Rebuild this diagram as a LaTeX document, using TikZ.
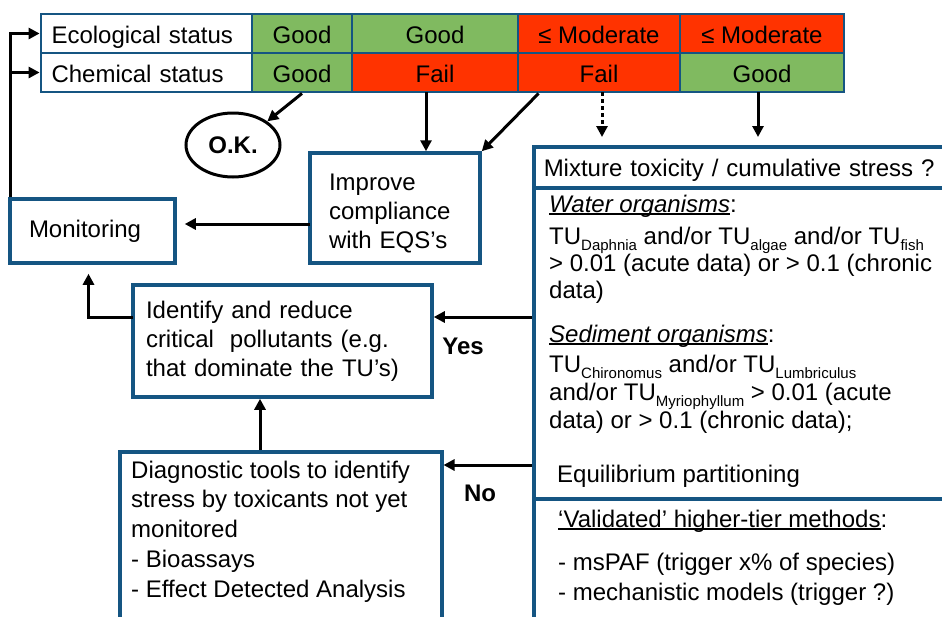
\documentclass[tikz,border=0pt]{standalone}
\usepackage{fontspec}
\setmainfont{Liberation Sans}
\usetikzlibrary{arrows.meta,shapes.geometric}
\definecolor{boxblue}{RGB}{21,85,130}
\definecolor{okgreen}{RGB}{128,186,96}
\definecolor{failred}{RGB}{255,51,0}
\newcommand{\sbs}[1]{\raisebox{-6.5pt}[0pt][0pt]{\fontsize{15}{15}\selectfont #1}}
\newcommand{\uln}[1]{\setbox0\hbox{#1}\rlap{\rule[-3pt]{\wd0}{1.8pt}}\box0}

\begin{document}
\begin{tikzpicture}[x=1pt,y=-1pt,font=\fontsize{24}{29}\selectfont]
 \tikzset{cell/.style={draw=boxblue, line width=2.8pt, inner sep=0pt, minimum height=39pt, text height=21pt, text depth=2pt},
  good/.style={cell, fill=okgreen},
  fail/.style={cell, fill=failred},
  box/.style={draw=boxblue, line width=3.5pt, fill=white, inner sep=0pt, align=left},
  txt/.style={inner sep=0pt, anchor=base west, align=left},
  flow/.style={line width=3pt, -{Triangle[length=11pt,width=11pt]}},
  answer/.style={font=\fontsize{24}{29}\selectfont\bfseries}}
  \useasboundingbox (0,0) rectangle (942,616);
  \clip (0,0) rectangle (942,616);
  % status table
  \node[cell, minimum width=211pt, text width=190pt, align=left] (ecolab) at (146.5,33.5) {Ecological status};
  \node[cell, minimum width=211pt, text width=190pt, align=left] (chemlab) at (146.5,72.5) {Chemical status};
  \node[good, minimum width=100pt] (eco1) at (302,33.5) {Good};
  \node[good, minimum width=100pt] (chem1) at (302,72.5) {Good};
  \node[good, minimum width=166pt] (eco2) at (435,33.5) {Good};
  \node[fail, minimum width=166pt] (chem2) at (435,72.5) {Fail};
  \node[fail, minimum width=162pt] (eco3) at (599,33.5) {≤ Moderate};
  \node[fail, minimum width=162pt] (chem3) at (599,72.5) {Fail};
  \node[fail, minimum width=164pt] (eco4) at (762,33.5) {≤ Moderate};
  \node[good, minimum width=164pt] (chem4) at (762,72.5) {Good};
  % boxes
  \node[draw, ellipse, line width=3pt, minimum width=94pt, minimum height=64pt, inner sep=0pt, font=\fontsize{24}{29}\selectfont\bfseries] (ok) at (233,145) {O.K.};
  \node[box, minimum width=165pt, minimum height=64pt, text width=127pt] (monitor) at (92.5,231) {Monitoring};
  \node[box, minimum width=170pt, minimum height=110pt, text width=132pt, text height=17pt, text depth=53pt] (improve) at (395,208) {Improve\\compliance\\with EQS’s};
  \node[box, minimum width=299pt, minimum height=112pt, text width=273pt] (identify) at (282.5,341) {Identify and reduce\\critical\ \ pollutants (e.g.\\that dominate the TU’s)};
  \node[box, minimum width=322pt, minimum height=250pt, anchor=north west] (diag) at (118,450) {};
  \node[txt, font=\fontsize{24}{29.7}\selectfont] (diagtxt) at (131,597) {Diagnostic tools to identify\\stress by toxicants not yet\\monitored\\- Bioassays\\- Effect Detected Analysis};
  % mixture box
  \node[box, minimum width=500pt, minimum height=41pt, text width=480pt, text height=21pt, text depth=2pt, anchor=north west] (mixtitle) at (532,145) {Mixture toxicity / cumulative stress ?};
  \node[box, minimum width=500pt, minimum height=311pt, anchor=north west] (mixbody) at (532,186) {};
  \node[box, minimum width=500pt, minimum height=200pt, anchor=north west] (mixhigher) at (532,497) {};
  \node[txt] (water) at (549,212) {\uln{\textit{Water organisms}}:};
  \node[txt, font=\fontsize{24}{27}\selectfont] (watertu) at (549,298) {TU\sbs{Daphnia} and/or TU\sbs{algae} and/or TU\sbs{fish}\\> 0.01 (acute data) or > 0.1 (chronic\\data)};
  \node[txt] (sediment) at (549,342) {\uln{\textit{Sediment organisms}}:};
  \node[txt, font=\fontsize{24}{28}\selectfont] (sedtu) at (549,428) {TU\sbs{Chironomus} and/or TU\sbs{Lumbriculus}\\and/or TU\sbs{Myriophyllum} > 0.01 (acute\\data) or > 0.1 (chronic data);};
  \node[txt] (equil) at (557,482) {Equilibrium partitioning};
  \node[txt] (higher) at (558,527) {\uln{‘Validated’ higher-tier methods}:};
  \node[txt, font=\fontsize{24}{30}\selectfont] (methods) at (558,600) {- msPAF (trigger x\% of species)\\- mechanistic models (trigger ?)};
  % feedback loop
  \draw[flow] ([xshift=2pt]monitor.north west) |- (ecolab.west);
  \draw[flow] ([xshift=2pt]monitor.north west) |- (chemlab.west);
  % from the table
  \coordinate (f2) at (426,92);
  \coordinate (f3) at (602,92);
  \coordinate (g4) at (758,92);
  \draw[flow] (chem1.south) -- (ok.north east);
  \draw[flow] (f2) -- (f2 |- improve.north);
  \draw[flow] ([xshift=22pt]chem3.south west) -- (improve.north east);
  \draw[flow, dash pattern=on 4pt off 3pt, shorten >=8pt] (f3) -- (f3 |- mixtitle.north);
  \draw[flow, shorten >=8pt] (g4) -- (g4 |- mixtitle.north);
  % to monitoring
  \coordinate (imp) at (310,224);
  \coordinate (idw) at (133,317);
  \draw[flow, shorten >=8pt] (imp) -- (imp -| monitor.east);
  \draw[flow, shorten >=9pt] (idw) -| ([xshift=-4pt]monitor.south);
  % yes / no
  \coordinate (yes) at (532,317);
  \coordinate (no) at (532,465);
  \coordinate (dg) at (260,450);
  \draw[flow] (yes) -- (yes -| identify.east);
  \node[answer] (yeslbl) at (463,346) {Yes};
  \draw[flow] (no) -- (no -| diag.east);
  \node[answer] (nolbl) at (480,493) {No};
  \draw[flow] (dg) -- (dg |- identify.south);
\end{tikzpicture}
\end{document}
